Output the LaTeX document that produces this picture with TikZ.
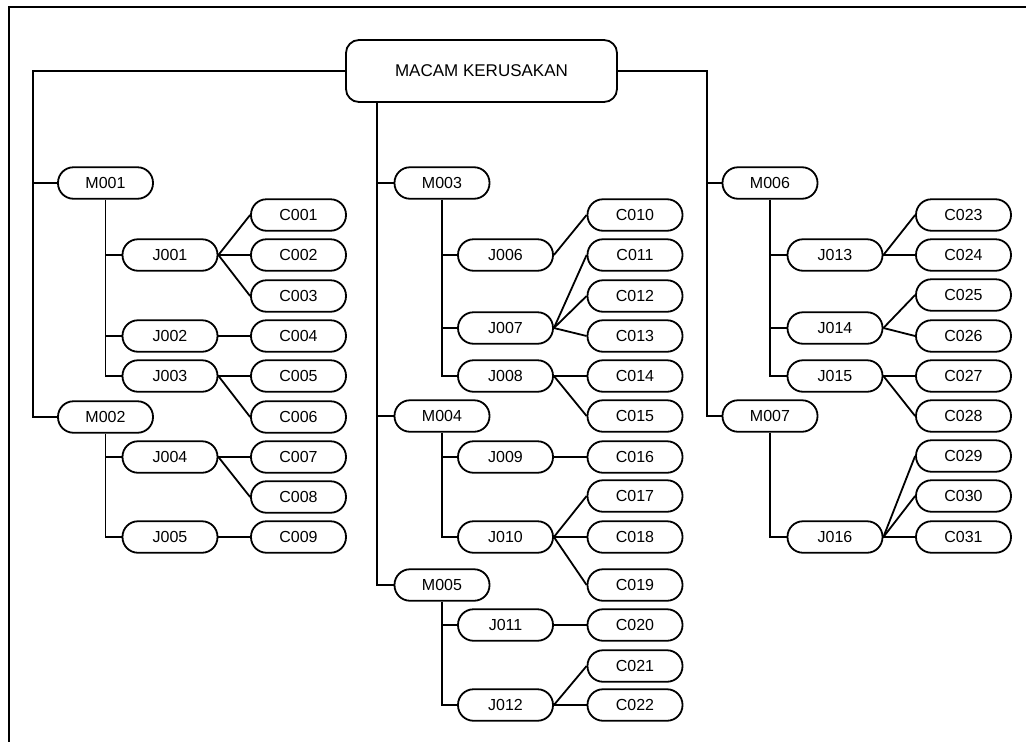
\documentclass[tikz,border=0pt]{standalone}
\usepackage{fontspec}
\setmainfont{Liberation Sans}
\usetikzlibrary{positioning}
\tikzset{
  pill/.style={draw, line width=1.8pt, rounded corners=15.5pt, minimum height=31.5pt, minimum width=95pt, inner sep=0pt, font=\fontsize{16}{19}\selectfont},
  rootbox/.style={draw, line width=1.8pt, rounded corners=13pt, minimum height=62pt, minimum width=271pt, inner sep=0pt, font=\fontsize{17}{20}\selectfont},
  link/.style={line width=1.8pt},
  frame/.style={line width=2.4pt},
}

\begin{document}
\begin{tikzpicture}[x=1pt, y=-1pt]
    \useasboundingbox (0,0) rectangle (1026,742);
    \draw[frame] (9,760) -- (9,7) -- (1040,7);

    \node[rootbox] (root) at (481.5,71) {MACAM KERUSAKAN};

    % left column
    \node[pill] (m1) at (105.5,183) {M001};
    \node[pill] (m2) at (105.5,417) {M002};
    \node[pill] (j1) at (170,255) {J001};
    \node[pill] (j2) at (170,336) {J002};
    \node[pill] (j3) at (170,376) {J003};
    \node[pill] (j4) at (170,457) {J004};
    \node[pill] (j5) at (170,537) {J005};
    \node[pill] (c1) at (298.5,215) {C001};
    \node[pill] (c2) at (298.5,255) {C002};
    \node[pill] (c3) at (298.5,296) {C003};
    \node[pill] (c4) at (298.5,336) {C004};
    \node[pill] (c5) at (298.5,376) {C005};
    \node[pill] (c6) at (298.5,417) {C006};
    \node[pill] (c7) at (298.5,457) {C007};
    \node[pill] (c8) at (298.5,497) {C008};
    \node[pill] (c9) at (298.5,537) {C009};

    % middle column
    \node[pill] (m3) at (442,183) {M003};
    \node[pill] (m4) at (442,416) {M004};
    \node[pill] (m5) at (442,585) {M005};
    \node[pill] (j6) at (505.5,255) {J006};
    \node[pill] (j7) at (505.5,328) {J007};
    \node[pill] (j8) at (505.5,376) {J008};
    \node[pill] (j9) at (505.5,457) {J009};
    \node[pill] (j10) at (505.5,537) {J010};
    \node[pill] (j11) at (505.5,625) {J011};
    \node[pill] (j12) at (505.5,705) {J012};
    \node[pill] (c10) at (635,215) {C010};
    \node[pill] (c11) at (635,255) {C011};
    \node[pill] (c12) at (635,296) {C012};
    \node[pill] (c13) at (635,336) {C013};
    \node[pill] (c14) at (635,376) {C014};
    \node[pill] (c15) at (635,416) {C015};
    \node[pill] (c16) at (635,457) {C016};
    \node[pill] (c17) at (635,496) {C017};
    \node[pill] (c18) at (635,537) {C018};
    \node[pill] (c19) at (635,585) {C019};
    \node[pill] (c20) at (635,625) {C020};
    \node[pill] (c21) at (635,666) {C021};
    \node[pill] (c22) at (635,705) {C022};

    % right column
    \node[pill] (m6) at (770,183) {M006};
    \node[pill] (m7) at (770,416) {M007};
    \node[pill] (j13) at (835,255) {J013};
    \node[pill] (j14) at (835,328) {J014};
    \node[pill] (j15) at (835,376) {J015};
    \node[pill] (j16) at (835,537) {J016};
    \node[pill] (c23) at (963.5,215) {C023};
    \node[pill] (c24) at (963.5,255) {C024};
    \node[pill] (c25) at (963.5,295) {C025};
    \node[pill] (c26) at (963.5,336) {C026};
    \node[pill] (c27) at (963.5,376) {C027};
    \node[pill] (c28) at (963.5,416) {C028};
    \node[pill] (c29) at (963.5,456) {C029};
    \node[pill] (c30) at (963.5,496) {C030};
    \node[pill] (c31) at (963.5,537) {C031};

    % trunks from the root
    \coordinate (tl) at (33,71);
    \coordinate (tm) at (377,0);
    \coordinate (tr) at (707,71);
    \draw[link] (root.west) -- (tl) |- (m2.west);
    \draw[link] (tl |- m1.west) -- (m1.west);
    \draw[link] (root.south -| tm) |- (m5.west);
    \foreach \m in {m3,m4}
      \draw[link] (tm |- \m.west) -- (\m.west);
    \draw[link] (root.east) -- (tr) |- (m7.west);
    \draw[link] (tr |- m6.west) -- (m6.west);

    % M -> J
    \foreach \m/\last/\rest in {m1/j3/{j1,j2}, m2/j5/{j4}, m3/j8/{j6,j7}, m4/j10/{j9}, m5/j12/{j11}, m6/j15/{j13,j14}, m7/j16/{}} {
      \draw[link] (\m.south) |- (\last.west);
      \foreach \j in \rest
        \draw[link] (\m.south |- \j.west) -- (\j.west);
    }

    % J -> C
    \foreach \j/\c in {1/1,1/2,1/3,2/4,3/5,3/6,4/7,4/8,5/9,6/10,7/11,7/12,7/13,8/14,8/15,9/16,10/17,10/18,10/19,11/20,12/21,12/22,13/23,13/24,14/25,14/26,15/27,15/28,16/29,16/30,16/31}
      \draw[link] (j\j.east) -- (c\c.west);
  \end{tikzpicture}
\end{document}
